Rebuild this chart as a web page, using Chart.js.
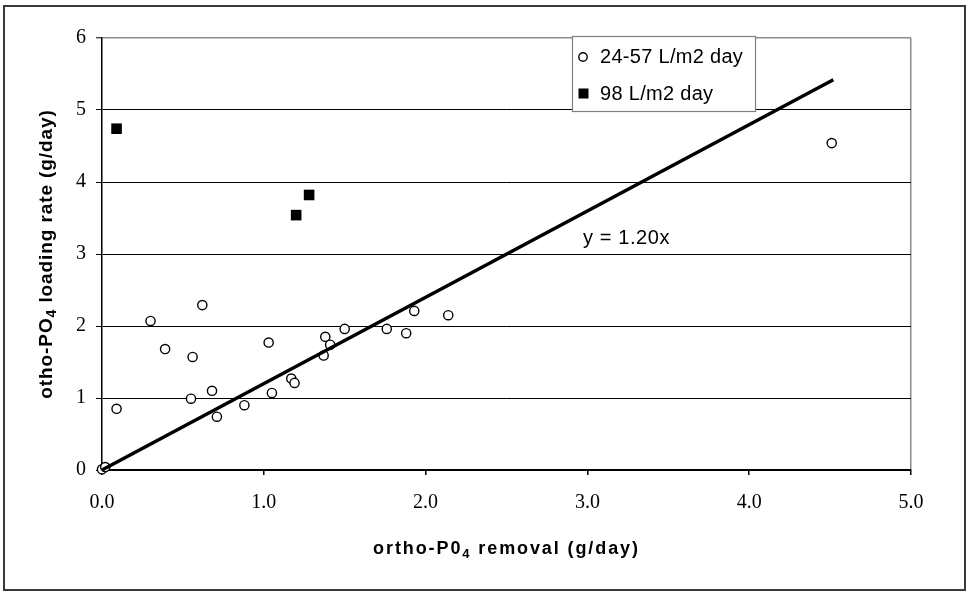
<!DOCTYPE html>
<html><head><meta charset="utf-8">
<script src="https://cdn.jsdelivr.net/npm/chart.js@4/dist/chart.umd.min.js"></script>
<style>html,body{margin:0;padding:0;background:#fff;}#wrap{width:970px;height:592px;position:relative;}</style>
</head><body><div id="wrap"><canvas id="c" width="970" height="592"></canvas></div>
<script>
// ---- data ----
const lowRateX  = [0.00, 0.02, 0.09, 0.30, 0.39, 0.55, 0.56, 0.62, 0.68, 0.71, 0.88, 1.03, 1.05, 1.17, 1.19, 1.37, 1.38, 1.41, 1.50, 1.76, 1.88, 1.93, 2.14, 4.51];
const lowRateY  = [0.01, 0.04, 0.85, 2.07, 1.68, 0.99, 1.57, 2.29, 1.10, 0.74, 0.90, 1.77, 1.07, 1.27, 1.21, 1.59, 1.85, 1.74, 1.96, 1.96, 1.90, 2.21, 2.15, 4.54];
const highRateX = [0.09, 1.20, 1.28];
const highRateY = [4.74, 3.54, 3.82];
const trendX = [0, 4.52];
const trendY = [0, 5.42];
const xTickValues = [0, 1, 2, 3, 4, 5];
const yTickValues = [0, 1, 2, 3, 4, 5, 6];
const seriesLabels = ['24-57 L/m2 day', '98 L/m2 day'];
const trendLabel = 'y = 1.20x';
const xTitleParts = ['ortho-P0', '4', ' removal (g/day)'];
const yTitleParts = ['otho-PO', '4', ' loading rate (g/day)'];

const toPts = (xs, ys) => xs.map((x, i) => ({x: x, y: ys[i]}));

const SANS = '"Liberation Sans", Arial, sans-serif';
const SERIF = '"Liberation Serif", "Times New Roman", serif';

function drawParts(ctx, parts, size, subSize, spacing) {
  ctx.letterSpacing = spacing + 'px';
  const widths = parts.map((p, i) => {
    ctx.font = 'bold ' + (i === 1 ? subSize : size) + 'px ' + SANS;
    return ctx.measureText(p).width;
  });
  const total = widths.reduce((a, b) => a + b, 0);
  let x = -total / 2;
  parts.forEach((p, i) => {
    ctx.font = 'bold ' + (i === 1 ? subSize : size) + 'px ' + SANS;
    ctx.fillText(p, x, i === 1 ? 4 : 0);
    x += widths[i];
  });
  ctx.letterSpacing = '0px';
  return total;
}

const decor = {
  id: 'decor',
  beforeDraw(chart) {
    const ctx = chart.ctx;
    ctx.save();
    ctx.fillStyle = '#fff';
    ctx.fillRect(0, 0, chart.width, chart.height);
    ctx.restore();
  },
  afterDraw(chart) {
    const ctx = chart.ctx;
    const a = chart.chartArea;
    ctx.save();
    // outer frame
    ctx.strokeStyle = '#3a3a3a';
    ctx.lineWidth = 2;
    ctx.strokeRect(4, 6, 961, 584);

    ctx.fillStyle = '#000';
    ctx.textBaseline = 'alphabetic';
    ctx.textAlign = 'left';
    // x title
    ctx.save();
    ctx.translate((a.left + a.right) / 2, 554);
    drawParts(ctx, xTitleParts, 18, 13, 1.9);
    ctx.restore();
    // y title
    ctx.save();
    ctx.translate(52, (a.top + a.bottom) / 2);
    ctx.rotate(-Math.PI / 2);
    drawParts(ctx, yTitleParts, 19, 14, 0.9);
    ctx.restore();

    // legend
    ctx.fillStyle = '#fff';
    ctx.fillRect(572, 36, 184, 76);
    ctx.strokeStyle = '#808080';
    ctx.lineWidth = 1.2;
    ctx.strokeRect(572.5, 36.5, 183, 75);
    ctx.font = '20px ' + SANS;
    ctx.letterSpacing = '0.3px';
    ctx.fillStyle = '#000';
    ctx.textBaseline = 'middle';
    ctx.fillText(seriesLabels[0], 600, 57);
    ctx.fillText(seriesLabels[1], 600, 94);
    ctx.beginPath();
    ctx.arc(583, 57, 4.2, 0, Math.PI * 2);
    ctx.fillStyle = '#fff';
    ctx.fill();
    ctx.strokeStyle = '#000';
    ctx.lineWidth = 1.4;
    ctx.stroke();
    ctx.fillStyle = '#000';
    ctx.fillRect(578.5, 88.5, 10, 10);

    // trend label
    ctx.font = '20px ' + SANS;
    ctx.letterSpacing = '0.6px';
    ctx.textBaseline = 'middle';
    ctx.fillText(trendLabel, 583, 238);
    ctx.letterSpacing = '0px';
    ctx.restore();
  }
};

new Chart(document.getElementById('c'), {
  type: 'scatter',
  data: {
    datasets: [
      {
        type: 'line',
        label: 'trend',
        data: toPts(trendX, trendY),
        borderColor: '#000',
        borderWidth: 3.5,
        pointRadius: 0,
        fill: false,
        clip: false,
        order: 0
      },
      {
        label: seriesLabels[0],
        data: toPts(lowRateX, lowRateY),
        pointStyle: 'circle',
        pointRadius: 4.6,
        pointBorderWidth: 1.4,
        pointBorderColor: '#000',
        pointBackgroundColor: '#fff',
        clip: false,
        order: 1
      },
      {
        label: seriesLabels[1],
        data: toPts(highRateX, highRateY),
        pointStyle: 'rect',
        pointRadius: 7.5,
        pointBorderWidth: 0,
        pointBackgroundColor: '#000',
        pointBorderColor: '#000',
        clip: false,
        order: 2
      }
    ]
  },
  options: {
    responsive: false,
    animation: false,
    devicePixelRatio: 1,
    layout: {padding: {left: 0, top: 38, right: 59, bottom: 0}},
    plugins: {legend: {display: false}, tooltip: {enabled: false}},
    scales: {
      x: {
        type: 'linear',
        min: 0, max: 5,
        afterBuildTicks: s => { s.ticks = xTickValues.map(v => ({value: v})); },
        afterFit: s => { s.height = 122; },
        ticks: {
          callback: v => Number(v).toFixed(1),
          font: {family: SERIF, size: 20},
          color: '#000',
          padding: 16,
          maxRotation: 0
        },
        grid: {
          color: c => (c.tick && c.tick.value === 5) ? '#8c8c8c' : 'rgba(0,0,0,0)',
          lineWidth: 1.5,
          tickColor: '#000',
          tickLength: 5,
          tickWidth: 1.5
        },
        border: {color: '#000', width: 2}
      },
      y: {
        type: 'linear',
        min: 0, max: 6,
        afterBuildTicks: s => { s.ticks = yTickValues.map(v => ({value: v})); },
        afterFit: s => { s.width = 102; },
        ticks: {
          callback: v => String(v),
          font: {family: SERIF, size: 20},
          color: '#000',
          padding: 10
        },
        grid: {
          color: c => (c.tick && c.tick.value === 6) ? '#8c8c8c' : '#000',
          lineWidth: c => (c.tick && c.tick.value === 6) ? 1.5 : 1,
          tickColor: '#000',
          tickLength: 6,
          tickWidth: 1
        },
        border: {color: '#000', width: 1.5}
      }
    }
  },
  plugins: [decor]
});
</script>
</body></html>
